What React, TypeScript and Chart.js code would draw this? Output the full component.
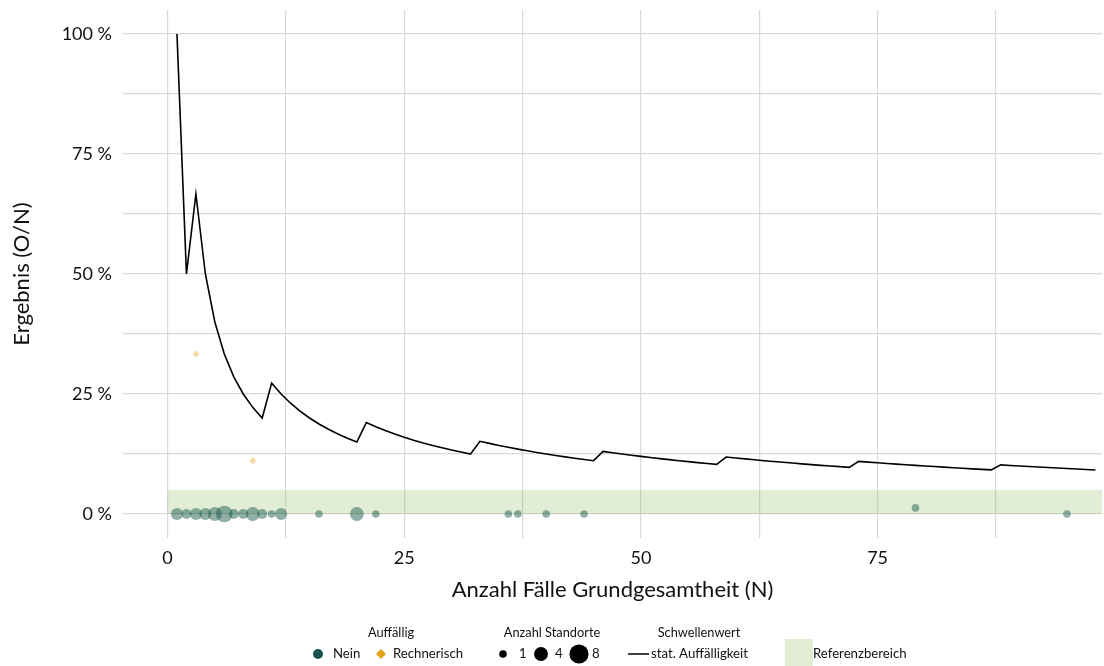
import React, { useEffect, useRef } from 'react';
import { Chart, registerables } from 'chart.js';

Chart.register(...registerables);

const FONT = 'Lato, "Open Sans", sans-serif';

// Axis ticks
const xGridTicks = [0, 12.5, 25, 37.5, 50, 62.5, 75, 87.5];
const xLabelTicks = [0, 25, 50, 75];
const yGridTicks = [0, 12.5, 25, 37.5, 50, 62.5, 75, 87.5, 100];
const yLabelTicks = [0, 25, 50, 75, 100];

// Referenzbereich (percent)
const referenzLow = 0;
const referenzHigh = 5;
const referenzStartN = 0;

// Auffällig: Nein
const neinN = [1, 2, 3, 4, 5, 6, 7, 8, 9, 10, 11, 12, 16, 20, 22, 36, 37, 40, 44, 79, 95];
const neinRate = [0, 0, 0, 0, 0, 0, 0, 0, 0, 0, 0, 0, 0, 0, 0, 0, 0, 0, 0, 1.27, 0];
const neinCount = [3, 2, 3, 3, 4, 6, 2, 2, 4, 2, 1, 3, 1, 4, 1, 1, 1, 1, 1, 1, 1];

// Auffällig: Rechnerisch
const rechnerischN = [3, 9];
const rechnerischRate = [33.33, 11.11];
const rechnerischCount = [1, 1];

// Schwellenwert: stat. Auffälligkeit
const thresholdN = [
  1, 2, 3, 4, 5, 6, 7, 8, 9, 10, 11, 12, 13, 14, 15, 16, 17, 18, 19, 20,
  21, 22, 23, 24, 25, 26, 27, 28, 29, 30, 31, 32, 33, 34, 35, 36, 37, 38, 39, 40,
  41, 42, 43, 44, 45, 46, 47, 48, 49, 50, 51, 52, 53, 54, 55, 56, 57, 58, 59, 60,
  61, 62, 63, 64, 65, 66, 67, 68, 69, 70, 71, 72, 73, 74, 75, 76, 77, 78, 79, 80,
  81, 82, 83, 84, 85, 86, 87, 88, 89, 90, 91, 92, 93, 94, 95, 96, 97, 98,
];
const thresholdRate = [
  100, 50, 66.67, 50, 40, 33.33, 28.57, 25, 22.22, 20, 27.27, 25, 23.08, 21.43, 20, 18.75, 17.65, 16.67, 15.79, 15,
  19.05, 18.18, 17.39, 16.67, 16, 15.38, 14.81, 14.29, 13.79, 13.33, 12.9, 12.5, 15.15, 14.71, 14.29, 13.89, 13.51, 13.16, 12.82, 12.5,
  12.2, 11.9, 11.63, 11.36, 11.11, 13.04, 12.77, 12.5, 12.24, 12, 11.76, 11.54, 11.32, 11.11, 10.91, 10.71, 10.53, 10.34, 11.86, 11.67,
  11.48, 11.29, 11.11, 10.94, 10.77, 10.61, 10.45, 10.29, 10.14, 10, 9.86, 9.72, 10.96, 10.81, 10.67, 10.53, 10.39, 10.26, 10.13, 10,
  9.88, 9.76, 9.64, 9.52, 9.41, 9.3, 9.2, 10.23, 10.11, 10, 9.89, 9.78, 9.68, 9.57, 9.47, 9.38, 9.28, 9.18,
];

// Legend entries
const sizeLegendValues = [1, 4, 8];

const COLOR_NEIN = '#14544c';
const COLOR_NEIN_POINT = 'rgba(20, 84, 72, 0.47)';
const COLOR_RECH = '#e8a21a';
const COLOR_RECH_POINT = 'rgba(236, 170, 40, 0.42)';
const COLOR_REF = 'rgba(120, 170, 60, 0.21)';
const COLOR_REF_LEGEND = '#e2edd3';
const TEXT = '#111';

const sizeRadius = (n: number) => Math.sqrt(3.3 + 11.1 * n);

const bandPlugin = {
  id: 'refBand',
  beforeDatasetsDraw(chart: any) {
    const { ctx, chartArea, scales } = chart;
    const x0 = scales.x.getPixelForValue(referenzStartN);
    const yTop = scales.y.getPixelForValue(referenzHigh);
    const yBot = scales.y.getPixelForValue(referenzLow);
    ctx.save();
    ctx.fillStyle = COLOR_REF;
    ctx.fillRect(x0, yTop, chartArea.right - x0, yBot - yTop);
    ctx.restore();
  },
};

const legendPlugin = {
  id: 'customLegend',
  afterDraw(chart: any) {
    const { ctx } = chart;
    const titleY = 633;
    const rowY = 654;
    ctx.save();
    ctx.fillStyle = TEXT;
    ctx.font = `12.8px ${FONT}`;
    ctx.textBaseline = 'middle';
    ctx.textAlign = 'center';
    ctx.fillText('Auffällig', 391, titleY);
    ctx.fillText('Anzahl Standorte', 552, titleY);
    ctx.fillText('Schwellenwert', 699, titleY);

    ctx.textAlign = 'left';
    ctx.font = `13.2px ${FONT}`;
    // Nein
    ctx.fillStyle = COLOR_NEIN;
    ctx.beginPath();
    ctx.arc(318, rowY, 5, 0, Math.PI * 2);
    ctx.fill();
    ctx.fillStyle = TEXT;
    ctx.fillText('Nein', 333, rowY);
    // Rechnerisch
    ctx.fillStyle = COLOR_RECH;
    ctx.beginPath();
    ctx.moveTo(381, rowY - 5);
    ctx.lineTo(386, rowY);
    ctx.lineTo(381, rowY + 5);
    ctx.lineTo(376, rowY);
    ctx.closePath();
    ctx.fill();
    ctx.fillStyle = TEXT;
    ctx.fillText('Rechnerisch', 393, rowY);

    // Size legend
    const sizeX = [503, 541, 579];
    const sizeLabelX = [519, 555, 592];
    sizeLegendValues.forEach((v, i) => {
      ctx.fillStyle = '#000';
      ctx.beginPath();
      ctx.arc(sizeX[i], rowY, sizeRadius(v), 0, Math.PI * 2);
      ctx.fill();
      ctx.fillStyle = TEXT;
      ctx.fillText(String(v), sizeLabelX[i], rowY);
    });

    // Threshold legend
    ctx.strokeStyle = '#000';
    ctx.lineWidth = 1.5;
    ctx.beginPath();
    ctx.moveTo(628, rowY);
    ctx.lineTo(649, rowY);
    ctx.stroke();
    ctx.fillStyle = TEXT;
    ctx.fillText('stat. Auffälligkeit', 651, rowY);

    // Referenzbereich
    ctx.fillStyle = COLOR_REF_LEGEND;
    ctx.fillRect(785, 639, 28, 28);
    ctx.fillStyle = TEXT;
    ctx.fillText('Referenzbereich', 813, rowY);
    ctx.restore();
  },
};

export default function App() {
  const canvasRef = useRef<HTMLCanvasElement | null>(null);

  useEffect(() => {
    if (!canvasRef.current) return;
    const chart = new Chart(canvasRef.current, {
      type: 'scatter',
      data: {
        datasets: [
          {
            label: 'stat. Auffälligkeit',
            data: thresholdN.map((n, i) => ({ x: n, y: thresholdRate[i] })),
            showLine: true,
            borderColor: '#000',
            borderWidth: 1.6,
            pointRadius: 0,
            pointHoverRadius: 0,
            fill: false,
            tension: 0,
          } as any,
          {
            label: 'Rechnerisch',
            data: rechnerischN.map((n, i) => ({ x: n, y: rechnerischRate[i] })),
            pointStyle: 'rectRot',
            backgroundColor: COLOR_RECH_POINT,
            borderWidth: 0,
            pointRadius: (c: any) => sizeRadius(rechnerischCount[c.dataIndex]) - 0.2,
            pointHoverRadius: (c: any) => sizeRadius(rechnerischCount[c.dataIndex]) - 0.2,
          } as any,
          {
            label: 'Nein',
            data: neinN.map((n, i) => ({ x: n, y: neinRate[i] })),
            pointStyle: 'circle',
            backgroundColor: COLOR_NEIN_POINT,
            borderWidth: 0,
            pointRadius: (c: any) => sizeRadius(neinCount[c.dataIndex]),
            pointHoverRadius: (c: any) => sizeRadius(neinCount[c.dataIndex]),
          } as any,
        ],
      },
      options: {
        responsive: false,
        animation: false,
        layout: { autoPadding: false, padding: { left: 0, right: 2, top: 10, bottom: 64 } },
        plugins: {
          legend: { display: false },
          tooltip: { enabled: false },
        },
        scales: {
          x: {
            type: 'linear',
            min: -4.7,
            max: 98.7,
            afterBuildTicks: (s: any) => {
              s.ticks = xGridTicks.map((v) => ({ value: v }));
            },
            afterFit: (s: any) => {
              s.height = 64;
              s.paddingLeft = 0;
              s.paddingRight = 0;
            },
            ticks: {
              autoSkip: false,
              maxRotation: 0,
              padding: 9,
              color: TEXT,
              font: { family: FONT, size: 18 },
              callback: (v: any) => (xLabelTicks.includes(Number(v)) ? String(v) : ''),
            },
            grid: { color: '#d9d9d9', lineWidth: 1.2, drawTicks: false },
            border: { display: false },
            title: {
              display: true,
              text: 'Anzahl Fälle Grundgesamtheit (N)',
              color: TEXT,
              font: { family: FONT, size: 22 },
              padding: { top: 0, bottom: -1 },
            },
          },
          y: {
            type: 'linear',
            min: -5,
            max: 105,
            afterBuildTicks: (s: any) => {
              s.ticks = yGridTicks.map((v) => ({ value: v }));
            },
            afterFit: (s: any) => {
              s.width = 123;
              s.paddingTop = 0;
              s.paddingBottom = 0;
            },
            ticks: {
              autoSkip: false,
              padding: 11,
              color: TEXT,
              font: { family: FONT, size: 18 },
              callback: (v: any) => (yLabelTicks.includes(Number(v)) ? `${v} %` : ''),
            },
            grid: { color: '#d9d9d9', lineWidth: 1.2, drawTicks: false },
            border: { display: false },
            title: {
              display: true,
              text: 'Ergebnis (O/N)',
              color: TEXT,
              font: { family: FONT, size: 22 },
              padding: { top: 9, bottom: 0 },
            },
          },
        },
      } as any,
      plugins: [bandPlugin, legendPlugin],
    });
    return () => chart.destroy();
  }, []);

  return (
    <div style={{ position: 'absolute', left: 0, top: 0, width: 1104, height: 666, background: '#fff' }}>
      <canvas ref={canvasRef} width={1104} height={666} />
    </div>
  );
}
